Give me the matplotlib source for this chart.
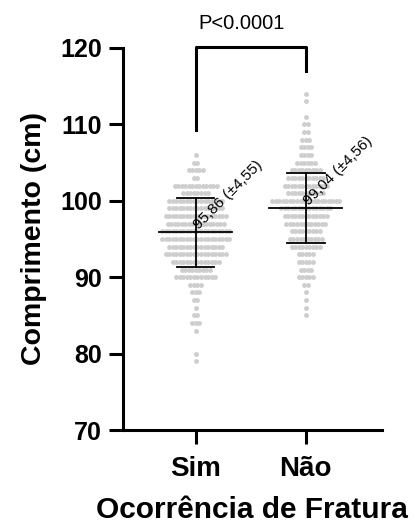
import numpy as np
import matplotlib
matplotlib.use('Agg')
import matplotlib.pyplot as plt

plt.rcParams['font.family'] = ['Liberation Sans', 'DejaVu Sans']

# groups
groups = ['Sim', 'Não']
means = [95.86, 99.04]
sds = [4.55, 4.56]
mean_labels = ['95,86 (±4,55)', '99,04 (±4,56)']

# dot plot: number of points in each 1 cm bin
sim_vals = [106, 105, 104, 103, 102, 101, 100, 99, 98, 97, 96, 95, 94, 93,
            92, 91, 90, 89, 88, 87, 86, 85, 84, 83, 80, 79]
sim_counts = [1, 2, 5, 2, 13, 8, 16, 16, 18, 17, 20, 20, 16, 18,
              14, 9, 12, 4, 3, 2, 1, 2, 3, 1, 1, 1]
nao_vals = [114, 113, 111, 110, 109, 108, 107, 106, 105, 104, 103, 102, 101,
            100, 99, 98, 97, 96, 95, 94, 93, 92, 91, 90, 89, 88, 87, 86, 85]
nao_counts = [1, 1, 1, 2, 2, 3, 4, 4, 6, 9, 11, 13, 11,
              20, 15, 13, 12, 9, 10, 9, 5, 5, 4, 5, 2, 1, 1, 1, 1]

p_text = 'P<0.0001'

fig = plt.figure(figsize=(4.2, 5.27), dpi=100)
ax = fig.add_axes([0.293, 0.184, 0.616, 0.725])

spacing = 0.032
for gi, (vals, counts) in enumerate([(sim_vals, sim_counts), (nao_vals, nao_counts)]):
    xs, ys = [], []
    for v, k in zip(vals, counts):
        for i in range(k):
            xs.append(gi + (i - (k - 1) / 2) * spacing)
            ys.append(v)
    ax.plot(xs, ys, 'o', ms=3.5, color='#cecece', mec='none', zorder=1)

for gi in range(2):
    m, s = means[gi], sds[gi]
    ax.plot([gi - 0.33, gi + 0.33], [m, m], color='black', lw=1.3, zorder=3)
    ax.plot([gi, gi], [m - s, m + s], color='black', lw=1.3, zorder=3)
    ax.plot([gi - 0.17, gi + 0.17], [m + s, m + s], color='black', lw=1.3, zorder=3)
    ax.plot([gi - 0.17, gi + 0.17], [m - s, m - s], color='black', lw=1.3, zorder=3)
    ax.text(gi + 0.05, m + 0.05, mean_labels[gi], rotation=45, rotation_mode='anchor',
            ha='left', va='bottom', fontsize=11, zorder=4)

# significance bracket
ax.plot([0, 0, 1, 1], [109.2, 120.1, 120.1, 117.0], color='black', lw=2.2,
        clip_on=False, zorder=5)
ax.text(0.42, 121.9, p_text, ha='center', va='bottom', fontsize=14.5)

ax.set_xlim(-0.66, 1.69)
ax.set_ylim(70, 120)
ax.set_yticks([70, 80, 90, 100, 110, 120])
ax.set_xticks([0, 1])
ax.set_xticklabels(groups)

for side in ['top', 'right']:
    ax.spines[side].set_visible(False)
for side in ['left', 'bottom']:
    ax.spines[side].set_linewidth(2.2)

ax.tick_params(axis='both', width=2.2, length=10)
ax.tick_params(axis='y', labelsize=18, pad=5)
ax.tick_params(axis='x', labelsize=20, pad=9)
for lab in ax.get_xticklabels() + ax.get_yticklabels():
    lab.set_fontweight('bold')

ax.set_ylabel('Comprimento (cm)', fontsize=20.5, fontweight='bold', labelpad=10)
ax.set_xlabel('Ocorrência de Fratura', fontsize=21.5, fontweight='bold', labelpad=10)

plt.savefig('out.png', dpi=100)
